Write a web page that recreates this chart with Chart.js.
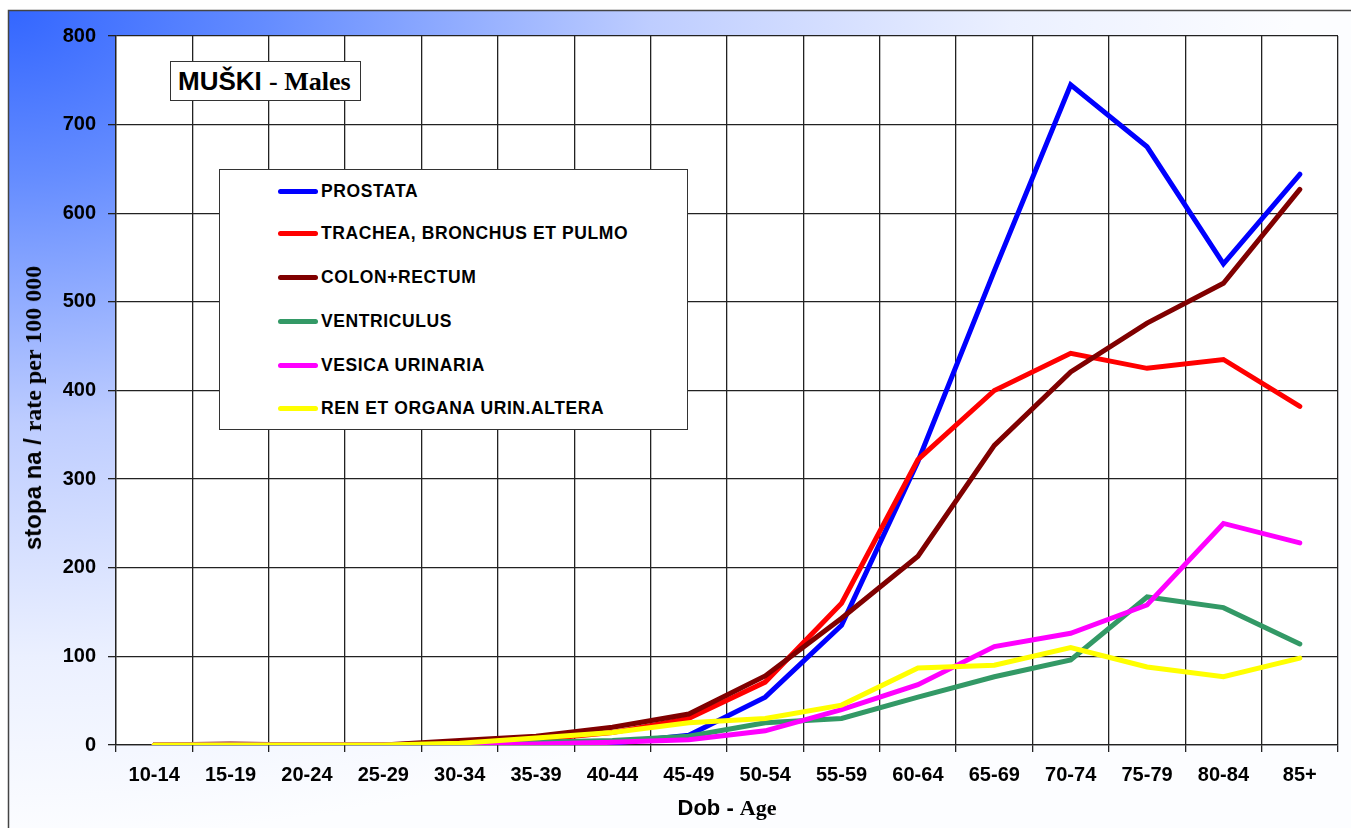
<!DOCTYPE html>
<html>
<head>
<meta charset="utf-8">
<script src="https://cdn.jsdelivr.net/npm/chart.js@4/dist/chart.umd.min.js"></script>
<style>
  html, body { margin:0; padding:0; background:#fff; }
  #wrap { position:relative; width:1351px; height:828px; overflow:hidden; }
  #c { position:absolute; left:0; top:0; }
  .ov { position:absolute; white-space:nowrap; color:#000; }
  .arial { font-family:"Liberation Sans", Arial, sans-serif; font-weight:bold; }
  .times { font-family:"Liberation Serif", "Times New Roman", serif; font-weight:bold; }
  #titleBox { left:170px; top:61px; width:189px; height:38px; border:1.5px solid #333; background:#fff; }
  #titleBox span.t { position:absolute; left:7px; top:4px; font-size:26px; }
  #legendBox { left:219px; top:169px; width:467px; height:259px; border:1.5px solid #333; background:#fff; }
  .lrow { position:absolute; left:0; height:20px; }
  .lline { position:absolute; left:58px; width:40px; height:5px; border-radius:3px; top:8px; }
  .ltext { position:absolute; left:101px; top:0; font-size:17.5px; line-height:20px; letter-spacing:0.6px; }
  #xTitle { left:0; width:1454px; top:795px; text-align:center; font-size:22px; }
  #yTitle { left:33px; top:408px; transform:translate(-50%,-50%) rotate(-90deg); font-size:24px; }
</style>
</head>
<body>
<div id="wrap">
  <canvas id="c" width="1351" height="828" style="width:1351px;height:828px"></canvas>
  <div id="titleBox" class="ov"><span class="t"><span class="arial">MUŠKI </span><span class="times">- Males</span></span></div>
  <div id="legendBox" class="ov"></div>
  <div id="xTitle" class="ov"><span class="arial">Dob - </span><span class="times">Age</span></div>
  <div id="yTitle" class="ov"><span class="arial">stopa na / </span><span class="times">rate per 100 000</span></div>
</div>
<script>
// ---- data ----
const ageGroups = ["10-14","15-19","20-24","25-29","30-34","35-39","40-44","45-49","50-54","55-59","60-64","65-69","70-74","75-79","80-84","85+"];
const seriesNames = ["PROSTATA","TRACHEA, BRONCHUS ET PULMO","COLON+RECTUM","VENTRICULUS","VESICA URINARIA","REN ET ORGANA URIN.ALTERA"];
const prostata    = [0,0,0,0,0,1,2,11,54,135,320,535,745,675,543,644];
const trachea     = [0,0,0,0,2,6,14,30,71,160,322,400,442,425,435,382];
const colon       = [0,1,0,0,5,10,20,35,78,143,213,338,421,476,521,627];
const ventriculus = [0,0,0,0,1,3,5,10,25,30,54,77,96,167,155,114];
const vesica      = [0,0,0,0,0,1,3,6,16,40,68,111,126,158,250,228];
const ren         = [0,0,0,0,2,8,14,25,30,45,87,90,110,88,77,98];
const yTicks = [0,100,200,300,400,500,600,700,800];

const seriesValues = [prostata, trachea, colon, ventriculus, vesica, ren];
const seriesColors = ["#0000FF","#FF0000","#800000","#339966","#FF00FF","#FFFF00"];

// ---- legend (HTML) ----
const legendBox = document.getElementById('legendBox');
const rowTops = [11, 53, 97, 141, 185, 228];
seriesNames.forEach((n, i) => {
  const r = document.createElement('div');
  r.className = 'lrow';
  r.style.top = rowTops[i] + 'px';
  r.innerHTML = '<div class="lline" style="background:' + seriesColors[i] + '"></div><div class="ltext arial">' + n + '</div>';
  legendBox.appendChild(r);
});

// ---- background plugin ----
const bgPlugin = {
  id: 'bg',
  beforeDraw(chart) {
    const ctx = chart.ctx;
    const W = chart.width, H = chart.height;
    ctx.save();
    ctx.fillStyle = '#fff';
    ctx.fillRect(0, 0, W, H);
    ctx.save();
    ctx.beginPath();
    ctx.rect(8, 10, W - 8, H - 10);
    ctx.clip();
    ctx.translate(8, 10);
    ctx.scale(1.55, 1);
    const g = ctx.createRadialGradient(0, 0, 0, 0, 0, 830);
    g.addColorStop(0, 'rgb(51,102,255)');
    g.addColorStop(0.2, 'rgb(100,140,255)');
    g.addColorStop(0.5, 'rgb(190,205,255)');
    g.addColorStop(0.78, 'rgb(235,240,255)');
    g.addColorStop(1, 'rgb(252,253,255)');
    ctx.fillStyle = g;
    ctx.fillRect(0, 0, W, H);
    ctx.restore();
    ctx.strokeStyle = '#444';
    ctx.lineWidth = 1.5;
    ctx.beginPath();
    ctx.moveTo(8.5, H + 2);
    ctx.lineTo(8.5, 10.5);
    ctx.lineTo(W + 2, 10.5);
    ctx.stroke();
    const a = chart.chartArea;
    ctx.fillStyle = '#fff';
    ctx.fillRect(a.left, a.top, a.right - a.left, a.bottom - a.top);
    ctx.restore();
  }
};

const tickFont = { family: '"Liberation Sans", Arial, sans-serif', size: 20, weight: 'bold' };

new Chart(document.getElementById('c'), {
  type: 'line',
  data: {
    labels: ageGroups,
    datasets: seriesNames.map((n, i) => ({
      label: n,
      data: seriesValues[i],
      borderColor: seriesColors[i],
      backgroundColor: seriesColors[i],
      borderWidth: 5,
      pointRadius: 0,
      pointHoverRadius: 0,
      tension: 0,
      fill: false,
      borderCapStyle: 'round',
      borderJoinStyle: 'miter',
      order: seriesNames.length - i
    }))
  },
  options: {
    responsive: false,
    devicePixelRatio: 1,
    animation: false,
    layout: { padding: { top: 36, right: 13, bottom: 0, left: 0 } },
    plugins: { legend: { display: false }, tooltip: { enabled: false }, title: { display: false } },
    scales: {
      x: {
        offset: true,
        grid: { offset: true, color: '#222', lineWidth: 1.3, tickLength: 7, drawTicks: true },
        border: { display: true, color: '#222', width: 1.3 },
        ticks: { font: tickFont, color: '#000', padding: 11, maxRotation: 0, autoSkip: false },
        afterFit(s) { s.height = 83; }
      },
      y: {
        min: 0, max: 800,
        afterBuildTicks(s) { s.ticks = yTicks.map(v => ({ value: v })); },
        grid: { color: '#222', lineWidth: 1.3, tickLength: 8 },
        border: { display: true, color: '#222', width: 1.3 },
        ticks: { font: tickFont, color: '#000', padding: 12 },
        afterFit(s) { s.width = 116; }
      }
    }
  },
  plugins: [bgPlugin]
});
</script>
</body>
</html>
